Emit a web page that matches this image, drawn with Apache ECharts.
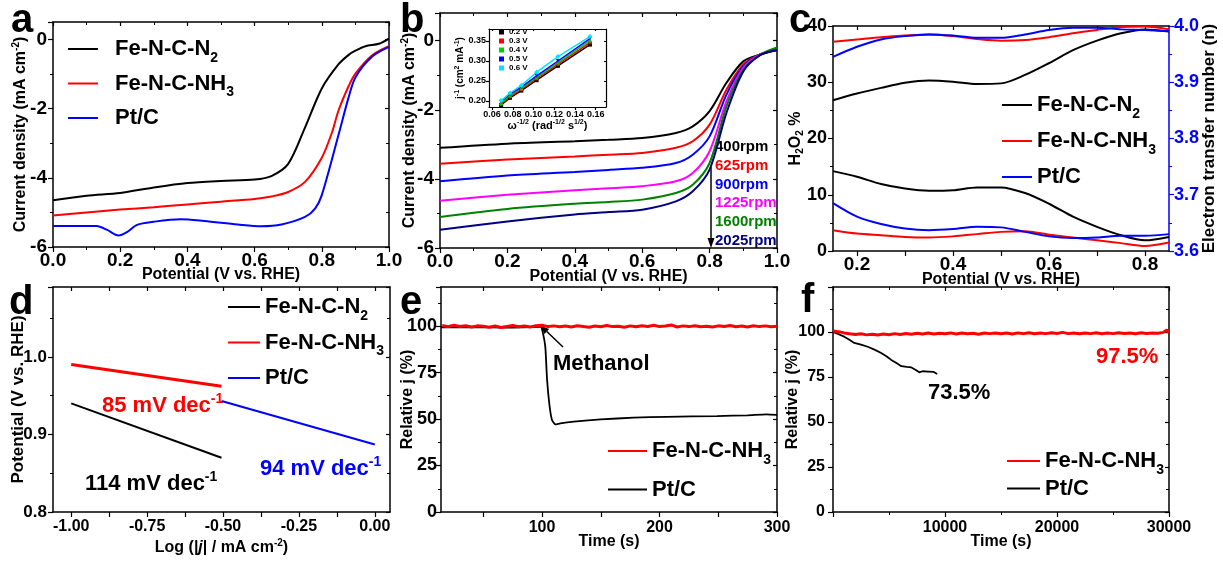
<!DOCTYPE html>
<html lang="en">
<head>
<meta charset="UTF-8">
<title>Fe-N-C ORR panels</title>
<script src="https://cdn.jsdelivr.net/npm/echarts@6.0.0/dist/echarts.min.js"></script>
<style>
  html, body { margin: 0; padding: 0; background: #fff; }
  #chart { width: 1223px; height: 562px; }
</style>
</head>
<body>
<div id="chart"></div>
<script>
// ---------- values ----------
// (a) LSV, [potential V, j mA cm-2]
const aN2 = [[0,-4.65],[0.1,-4.52],[0.2,-4.44],[0.3,-4.28],[0.4,-4.15],[0.5,-4.09],[0.6,-4.05],[0.65,-3.95],[0.7,-3.6],[0.75,-2.55],[0.8,-1.42],[0.85,-0.72],[0.88,-0.45],[0.9,-0.33],[0.93,-0.2],[0.97,-0.13],[1.0,0.02]];
const aNH3 = [[0,-5.09],[0.1,-5.0],[0.2,-4.92],[0.3,-4.85],[0.4,-4.77],[0.5,-4.69],[0.6,-4.61],[0.65,-4.54],[0.7,-4.41],[0.75,-4.12],[0.8,-3.42],[0.83,-2.7],[0.85,-2.05],[0.88,-1.35],[0.9,-0.99],[0.95,-0.46],[1.0,-0.2]];
const aPt = [[0,-5.39],[0.13,-5.39],[0.16,-5.5],[0.195,-5.67],[0.22,-5.57],[0.25,-5.36],[0.3,-5.27],[0.38,-5.2],[0.45,-5.25],[0.55,-5.35],[0.62,-5.4],[0.68,-5.35],[0.75,-5.13],[0.78,-4.89],[0.8,-4.5],[0.85,-2.75],[0.88,-1.67],[0.9,-1.1],[0.95,-0.5],[1.0,-0.22]];

// (b) rotating-disk LSVs
const bX = [0, 0.2, 0.4, 0.5, 0.6, 0.7, 0.75, 0.8, 0.85, 0.9, 0.95, 1.0];
const b400 = [-3.10,-2.98,-2.91,-2.87,-2.82,-2.67,-2.48,-2.04,-1.22,-0.60,-0.40,-0.27];
const b625 = [-3.56,-3.44,-3.35,-3.30,-3.25,-3.10,-2.91,-2.43,-1.42,-0.69,-0.40,-0.27];
const b900 = [-4.07,-3.90,-3.80,-3.74,-3.68,-3.54,-3.30,-2.77,-1.56,-0.74,-0.40,-0.27];
const b1225 = [-4.63,-4.46,-4.33,-4.27,-4.21,-4.07,-3.83,-3.20,-1.76,-0.79,-0.40,-0.26];
const b1600 = [-5.10,-4.87,-4.72,-4.67,-4.60,-4.41,-4.17,-3.54,-1.90,-0.84,-0.41,-0.20];
const b2025 = [-5.47,-5.23,-5.03,-4.96,-4.89,-4.65,-4.36,-3.73,-2.09,-0.89,-0.42,-0.27];
const rpmLabels = ['400rpm', '625rpm', '900rpm', '1225rpm', '1600rpm', '2025rpm'];

// (b inset) Koutecky-Levich, x = w^-1/2
const kX = [0.0687, 0.0773, 0.0883, 0.103, 0.1236, 0.1545];
const k02 = [0.190, 0.208, 0.226, 0.252, 0.288, 0.341];
const k03 = [0.192, 0.211, 0.229, 0.256, 0.292, 0.346];
const k04 = [0.195, 0.214, 0.232, 0.259, 0.296, 0.351];
const k05 = [0.198, 0.217, 0.235, 0.263, 0.300, 0.356];
const k06 = [0.201, 0.220, 0.239, 0.272, 0.311, 0.361];

// (c) H2O2 % (left) and electron transfer number (right)
const cX = [0.15,0.2,0.25,0.3,0.35,0.4,0.45,0.5,0.55,0.6,0.65,0.7,0.75,0.8,0.85];
const cN2h = [14.2,13.2,11.9,11.1,10.7,10.8,11.3,11.3,10.3,8.4,6.1,4.3,2.8,1.9,2.5];
const cNH3h = [3.7,3.1,2.8,2.5,2.4,2.6,3.0,3.4,3.5,2.9,2.4,1.9,1.4,0.9,1.5];
const cPth = [8.5,6.1,4.8,4.0,3.7,3.9,4.3,4.2,3.4,2.6,2.3,2.4,2.7,2.7,3.0];
const cN2n = [3.868,3.880,3.890,3.899,3.903,3.901,3.897,3.898,3.913,3.934,3.957,3.974,3.987,3.994,3.990];
const cNH3n = [3.972,3.976,3.980,3.983,3.985,3.982,3.977,3.974,3.975,3.980,3.987,3.993,3.998,3.999,3.994];
const cPtn = [3.945,3.963,3.976,3.982,3.985,3.983,3.979,3.979,3.985,3.993,3.997,3.997,3.994,3.993,3.991];

// (d) Tafel lines
const dN2 = [[-1.0,0.940],[-0.505,0.870]];
const dNH3 = [[-1.0,0.990],[-0.505,0.962]];
const dPt = [[-0.505,0.943],[0.0,0.887]];

// (e) methanol tolerance
const eTime = [15,20,25,30,35,40,45,50,55,60,65,70,75,80,85,90,95,100,105,110,115,120,125,130,135,140,145,150,155,160,165,170,175,180,185,190,195,200,205,210,215,220,225,230,235,240,245,250,255,260,265,270,275,280,285,290,295,300];
const eNH3 = [100.3,99.7,100.5,99.8,100.2,99.5,100.1,99.9,99.4,100.0,
  99.2,99.8,100.3,99.6,100.0,99.5,100.2,100.4,99.7,100.1,
  99.6,100.0,99.5,100.2,99.8,99.4,100.0,99.6,100.3,99.7,
  99.9,99.4,100.1,99.6,100.2,99.8,100.4,99.7,100.0,100.6,
  99.5,100.1,99.7,100.2,99.6,99.9,99.5,100.1,99.8,100.3,
  99.6,100.0,99.5,100.2,99.7,100.1,99.6,99.9];
const ePt = [[14,99.3],[40,99.4],[70,99.2],[95,99.5],[99,99.6],[100.5,97],[102.8,88.7],[104.3,71],[106.5,56.6],[108.5,49.5],[111.4,47.1],[115.6,47.7],[127,48.6],[150,49.8],[178,50.7],[206,51.2],[249,51.6],[275,52.0],[291,52.5],[300,52.2]];

// (f) long-term stability
const fTime = [0,500,1000,1500,2000,2500,3000,3500,4000,4500,5000,5500,6000,6500,7000,7500,8000,8500,9000,9500,
  10000,10500,11000,11500,12000,12500,13000,13500,14000,14500,15000,15500,16000,16500,17000,17500,18000,18500,19000,19500,
  20000,20500,21000,21500,22000,22500,23000,23500,24000,24500,25000,25500,26000,26500,27000,27500,28000,28500,29000,29500,29800,30000];
const fNH3 = [100.6,100.2,99.5,99.0,98.6,99.0,98.4,98.8,98.3,98.9,
  98.5,99.1,98.6,99.2,98.8,99.3,98.9,99.4,98.9,99.3,
  99.0,99.5,98.9,99.4,99.0,99.3,98.8,99.4,99.1,99.5,
  99.0,99.4,98.9,99.5,99.1,99.6,99.0,99.4,99.1,99.6,
  99.2,99.8,99.1,99.5,99.0,99.4,99.1,99.6,99.0,99.5,
  99.1,99.6,99.2,99.5,99.0,99.6,99.2,99.5,99.3,99.8,101.2,99.6];
const fPt = [[0,100],[500,98.8],[1000,97.4],[1500,95.5],[1900,93.9],[2500,93.0],[3100,91.8],[3700,90.2],[4300,88.3],[4800,86.4],[5200,84.5],[5700,82.6],[6100,81.0],[6600,80.6],[7000,80.3],[7400,78.9],[7700,77.6],[8000,78.2],[8500,78.0],[9000,77.8],[9300,76.7]];

// ---------- chart ----------
const FONT = "'Liberation Sans', Arial, sans-serif";
const RED = '#ff0000', BLUE = '#0000ff';
const zip = (xs, ys) => xs.map((x, i) => [x, ys[i]]);
const stepFmt = (step, dec) => v => Math.abs(v / step - Math.round(v / step)) < 1e-6 ? v.toFixed(dec) : '';

function nameRich(fs, color) {
  const b = { fontFamily: FONT, fontWeight: 'bold', color };
  return {
    t: Object.assign({ fontSize: fs }, b),
    it: Object.assign({ fontSize: fs, fontStyle: 'italic' }, b),
    sp: Object.assign({ fontSize: Math.round(fs * 0.65), padding: [0, 0, Math.round(fs * 0.55), 0] }, b),
    sb: Object.assign({ fontSize: Math.round(fs * 0.65), padding: [Math.round(fs * 0.55), 0, 0, 0] }, b)
  };
}

function axis(g, dim, pos, o, main) {
  const color = o.color || '#000';
  const ax = {
    type: 'value', gridIndex: g, position: pos, min: o.min, max: o.max,
    axisLine: { show: true, onZero: false, lineStyle: { color, width: o.lw || 1.5 } },
    axisTick: { show: true, inside: !main, length: main ? (o.tl || 5) : (o.tl || 5) - 1, lineStyle: { color, width: 1.2 } },
    minorTick: { show: !o.ticks, splitNumber: 2, length: o.ml || 3, lineStyle: { color, width: 1 } },
    splitLine: { show: false },
    axisLabel: { show: main, fontFamily: FONT, fontWeight: 'bold', fontSize: o.fs || 18, color, margin: o.margin == null ? 5 : o.margin, formatter: o.fmt }
  };
  if (o.interval) ax.interval = o.interval;
  if (o.ticks) ax.axisTick.customValues = o.ticks;
  if (o.labels) ax.axisLabel.customValues = o.labels;
  if (main && o.name) {
    const nfs = o.nfs || 16;
    ax.name = o.name;
    ax.nameLocation = 'middle';
    ax.nameGap = o.gap;
    ax.nameMoveOverlap = false;
    if (dim === 'y') ax.nameRotate = 90;
    ax.nameTextStyle = { fontFamily: FONT, fontWeight: 'bold', fontSize: nfs, color, rich: nameRich(nfs, color) };
  }
  return ax;
}

const xAxes = [], yAxes = [];
function addAxes(g, xo, yo, yRight) {
  xAxes.push(axis(g, 'x', 'bottom', xo, true), axis(g, 'x', 'top', xo, false));
  yAxes.push(axis(g, 'y', 'left', yo, true), yRight ? axis(g, 'y', 'right', yRight, true) : axis(g, 'y', 'right', yo, false));
}

const potName = 'Potential (V vs. RHE)';
const cdName = '{t|Current density (mA cm}{sp|-2}{t|)}';
// a
addAxes(0, { min: 0, max: 1, interval: 0.2, fmt: stepFmt(0.2, 1), fs: 19, margin: 4, name: potName, gap: 20 },
           { min: -6, max: 0.5, interval: 2, fmt: stepFmt(2, 0), fs: 19, margin: 6, name: cdName, gap: 23 });
// b
addAxes(1, { min: 0, max: 1, interval: 0.2, fmt: stepFmt(0.2, 1), fs: 19, margin: 4, name: potName, gap: 21 },
           { min: -6, max: 0.8, interval: 2, fmt: stepFmt(2, 0), fs: 19, margin: 6, name: cdName, gap: 21 });
// c
addAxes(2, { min: 0.15, max: 0.85, labels: [0.2, 0.4, 0.6, 0.8], ticks: [0.2, 0.3, 0.4, 0.5, 0.6, 0.7, 0.8], fmt: v => v.toFixed(1), fs: 19, margin: 4, name: potName, gap: 21 },
           { min: 0, max: 40, interval: 10, fmt: stepFmt(10, 0), fs: 18, margin: 6, name: '{t|H}{sb|2}{t|O}{sb|2}{t| %}', gap: 28 },
           { min: 3.6, max: 4.0, interval: 0.1, fmt: stepFmt(0.1, 1), fs: 18, margin: 5, color: BLUE, name: 'Electron transfer number (n)', nfs: 17, gap: 32 });
xAxes[5].axisTick.customValues = [0.2, 0.3, 0.4, 0.5, 0.6, 0.7, 0.8];
yAxes[5].nameTextStyle.color = '#000';
yAxes[5].nameTextStyle.rich = nameRich(17, '#000');
// d
addAxes(3, { min: -1.06, max: 0.05, labels: [-1, -0.75, -0.5, -0.25, 0], ticks: [-1, -0.875, -0.75, -0.625, -0.5, -0.375, -0.25, -0.125, 0], fmt: v => v.toFixed(2), fs: 16, margin: 7,
             name: '{t|Log (|}{it|j}{t|| / mA cm}{sp|-2}{t|)}', gap: 26 },
           { min: 0.8, max: 1.09, interval: 0.1, fmt: stepFmt(0.1, 1), fs: 17, margin: 6, name: potName, nfs: 17, gap: 26 });
// e
addAxes(4, { min: 14, max: 300, labels: [100, 200, 300], ticks: [50, 100, 150, 200, 250, 300], fmt: v => String(v), fs: 16, margin: 8, name: 'Time (s)', gap: 22 },
           { min: 0, max: 121, interval: 25, fmt: stepFmt(25, 0), fs: 18, margin: 4, name: 'Relative j (%)', gap: 25 });
// f
addAxes(5, { min: 0, max: 30000, interval: 10000, fmt: v => (v > 0 ? String(v) : ''), fs: 16, margin: 8, name: 'Time (s)', gap: 22 },
           { min: 0, max: 125, interval: 25, fmt: v => (v <= 100 ? stepFmt(25, 0)(v) : ''), fs: 16, margin: 8, name: 'Relative j (%)', gap: 32 });
// inset of b
addAxes(6, { min: 0.057, max: 0.17, labels: [0.06, 0.08, 0.1, 0.12, 0.14, 0.16], ticks: [0.06, 0.08, 0.1, 0.12, 0.14, 0.16], fmt: v => v.toFixed(2), fs: 9, margin: 3, lw: 1.2, tl: 3,
             name: '{t|ω}{sp|-1/2}{t| (rad}{sp|-1/2}{t| s}{sp|1/2}{t|)}', nfs: 11, gap: 12 },
           { min: 0.185, max: 0.38, labels: [0.2, 0.25, 0.3, 0.35], ticks: [0.2, 0.25, 0.3, 0.35], fmt: v => v.toFixed(2), fs: 9, margin: 3, lw: 1.2, tl: 3,
             name: '{t|j}{sp|-1}{t| (cm}{sp|2}{t| mA}{sp|-1}{t|)}', nfs: 10, gap: 22 });

function line(name, data, ax, color, width, extra) {
  return Object.assign({
    type: 'line', name, data, xAxisIndex: ax, yAxisIndex: ax, symbol: 'none',
    lineStyle: { color, width }, itemStyle: { color }, emphasis: { disabled: true }
  }, extra || {});
}
const sm = { smooth: 0.3 };

const series = [
  line('a_N2', aN2, 0, '#000', 2, sm),
  line('a_NH3', aNH3, 0, RED, 2, sm),
  line('a_Pt', aPt, 0, BLUE, 2, sm),
  line('b400', zip(bX, b400), 2, '#000', 2, sm),
  line('b625', zip(bX, b625), 2, RED, 2, sm),
  line('b900', zip(bX, b900), 2, BLUE, 2, sm),
  line('b1225', zip(bX, b1225), 2, '#ff00ff', 2, sm),
  line('b1600', zip(bX, b1600), 2, '#008000', 2, sm),
  line('b2025', zip(bX, b2025), 2, '#000080', 2, sm),
  line('c_N2', zip(cX, cN2h), 4, '#000', 2, sm),
  line('c_NH3', zip(cX, cNH3h), 4, RED, 2, sm),
  line('c_Pt', zip(cX, cPth), 4, BLUE, 2, sm),
  line('c_N2n', zip(cX, cN2n), 4, '#000', 2, Object.assign({ yAxisIndex: 5 }, sm)),
  line('c_NH3n', zip(cX, cNH3n), 4, RED, 2, Object.assign({ yAxisIndex: 5 }, sm)),
  line('c_Ptn', zip(cX, cPtn), 4, BLUE, 2, Object.assign({ yAxisIndex: 5 }, sm)),
  line('d_N2', dN2, 6, '#000', 2),
  line('d_NH3', dNH3, 6, RED, 3),
  line('d_Pt', dPt, 6, BLUE, 2),
  line('e_Pt', ePt, 8, '#000', 1.8, { smooth: 0.2 }),
  line('e_NH3', zip(eTime, eNH3), 8, RED, 3),
  line('f_Pt', fPt, 10, '#000', 1.8),
  line('f_NH3', zip(fTime, fNH3), 10, RED, 3),
  line('0.2 V', zip(kX, k02), 12, '#000', 1.5, { symbol: 'rect', symbolSize: 4, showSymbol: true }),
  line('0.3 V', zip(kX, k03), 12, RED, 1.5, { symbol: 'circle', symbolSize: 4, showSymbol: true }),
  line('0.4 V', zip(kX, k04), 12, '#00d000', 1.5, { symbol: 'triangle', symbolSize: 4, showSymbol: true }),
  line('0.5 V', zip(kX, k05), 12, BLUE, 1.5, { symbol: 'triangle', symbolRotate: 180, symbolSize: 4, showSymbol: true }),
  line('0.6 V', zip(kX, k06), 12, '#00e5ff', 1.5, { symbol: 'diamond', symbolSize: 5, showSymbol: true })
];

const legendRich = {
  g: { width: 12 },
  t: { fontFamily: FONT, fontWeight: 'bold', fontSize: 22, color: '#000', lineHeight: 26 },
  s: { fontFamily: FONT, fontWeight: 'bold', fontSize: 14, color: '#000', padding: [18, 0, 0, 0] }
};
const legendLabels = {
  a_N2: '{g|}{t|Fe-N-C-N}{s|2}', a_NH3: '{g|}{t|Fe-N-C-NH}{s|3}', a_Pt: '{g|}{t|Pt/C}{s| }',
  c_N2: '{t|Fe-N-C-N}{s|2}', c_NH3: '{t|Fe-N-C-NH}{s|3}', c_Pt: '{t|Pt/C}{s| }',
  d_N2: '{t|Fe-N-C-N}{s|2}', d_NH3: '{t|Fe-N-C-NH}{s|3}', d_Pt: '{t|Pt/C}{s| }',
  e_NH3: '{t|Fe-N-C-NH}{s|3}', e_Pt: '{t|Pt/C}{s| }',
  f_NH3: '{t|Fe-N-C-NH}{s|3}', f_Pt: '{t|Pt/C}{s| }'
};
function mkLegend(data, left, top, gap, w) {
  return {
    data, left, top, orient: 'vertical', itemGap: gap, itemWidth: w, itemHeight: 2, icon: 'rect', padding: 0,
    selectedMode: false, formatter: n => legendLabels[n], textStyle: { rich: legendRich }
  };
}

const txt = (x, y, text, size, color, rich) => ({
  type: 'text', x, y, silent: true,
  style: { text, fontFamily: FONT, fontWeight: 'bold', fontSize: size, fill: color, align: 'left', verticalAlign: 'middle', rich }
});
const supRich = color => ({
  r: { fontFamily: FONT, fontWeight: 'bold', fontSize: 22, fill: color },
  p: { fontFamily: FONT, fontWeight: 'bold', fontSize: 14, fill: color, padding: [0, 0, 14, 0] }
});
const rpmColors = ['#000', RED, BLUE, '#ff00ff', '#008000', '#000080'];
const rpmY = [147, 166, 185, 203, 222, 241];

const graphic = [
  txt(11, 21, 'a', 40, '#000'), txt(400, 21, 'b', 40, '#000'), txt(789, 21, 'c', 40, '#000'),
  txt(9, 303, 'd', 40, '#000'), txt(400, 303, 'e', 40, '#000'), txt(801, 301, 'f', 40, '#000'),
  txt(102, 406, '{r|85 mV dec}{p|-1}', 22, RED, supRich(RED)),
  txt(85, 484, '{r|114 mV dec}{p|-1}', 22, '#000', supRich('#000')),
  txt(260, 469, '{r|94 mV dec}{p|-1}', 22, BLUE, supRich(BLUE)),
  txt(553, 364, 'Methanol', 22, '#000'),
  txt(1096, 357, '97.5%', 22, RED),
  txt(928, 393, '73.5%', 22, '#000'),
  { type: 'line', silent: true, shape: { x1: 563, y1: 347, x2: 546.8, y2: 331.5 }, style: { stroke: '#000', lineWidth: 1.5 } },
  { type: 'polygon', silent: true, shape: { points: [[541, 326], [549.2, 329.0], [544.4, 334.0]] }, style: { fill: '#000' } },
  { type: 'line', silent: true, shape: { x1: 711, y1: 167, x2: 711, y2: 239 }, style: { stroke: '#000', lineWidth: 1.5 } },
  { type: 'polygon', silent: true, shape: { points: [[711, 248], [707.5, 238], [714.5, 238]] }, style: { fill: '#000' } }
].concat(rpmLabels.map((t, i) => txt(715, rpmY[i], t, 15, rpmColors[i])));

const chart = echarts.init(document.getElementById('chart'), null, { renderer: 'canvas' });
chart.setOption({
  backgroundColor: '#fff',
  animation: false,
  grid: [
    { left: 53, top: 22, width: 336, height: 225 },
    { left: 440, top: 13, width: 337, height: 235 },
    { left: 833, top: 26, width: 336, height: 225 },
    { left: 53, top: 287, width: 337, height: 225 },
    { left: 441, top: 287, width: 336, height: 225 },
    { left: 833, top: 287, width: 336, height: 225 },
    { left: 489, top: 29, width: 117, height: 78 }
  ].map(g => Object.assign({ containLabel: false, outerBoundsMode: 'none' }, g)),
  xAxis: xAxes,
  yAxis: yAxes,
  legend: [
    mkLegend(['a_N2', 'a_NH3', 'a_Pt'], 68, 38, 7.5, 30),
    mkLegend(['c_N2', 'c_NH3', 'c_Pt'], 1002, 94, 9, 30),
    mkLegend(['d_N2', 'd_NH3', 'd_Pt'], 228, 296, 8.5, 32),
    mkLegend(['e_NH3', 'e_Pt'], 608, 440, 11.5, 39),
    mkLegend(['f_NH3', 'f_Pt'], 1007, 450, 0.5, 33),
    {
      data: ['0.2 V', '0.3 V', '0.4 V', '0.5 V', '0.6 V'], left: 499, top: 28, orient: 'vertical',
      itemGap: 1, itemWidth: 5, itemHeight: 5, icon: 'rect', padding: 0, selectedMode: false,
      textStyle: { fontFamily: FONT, fontWeight: 'bold', fontSize: 8, color: '#000' }
    }
  ],
  graphic,
  series
});
window.addEventListener('resize', () => chart.resize());
</script>
</body>
</html>
